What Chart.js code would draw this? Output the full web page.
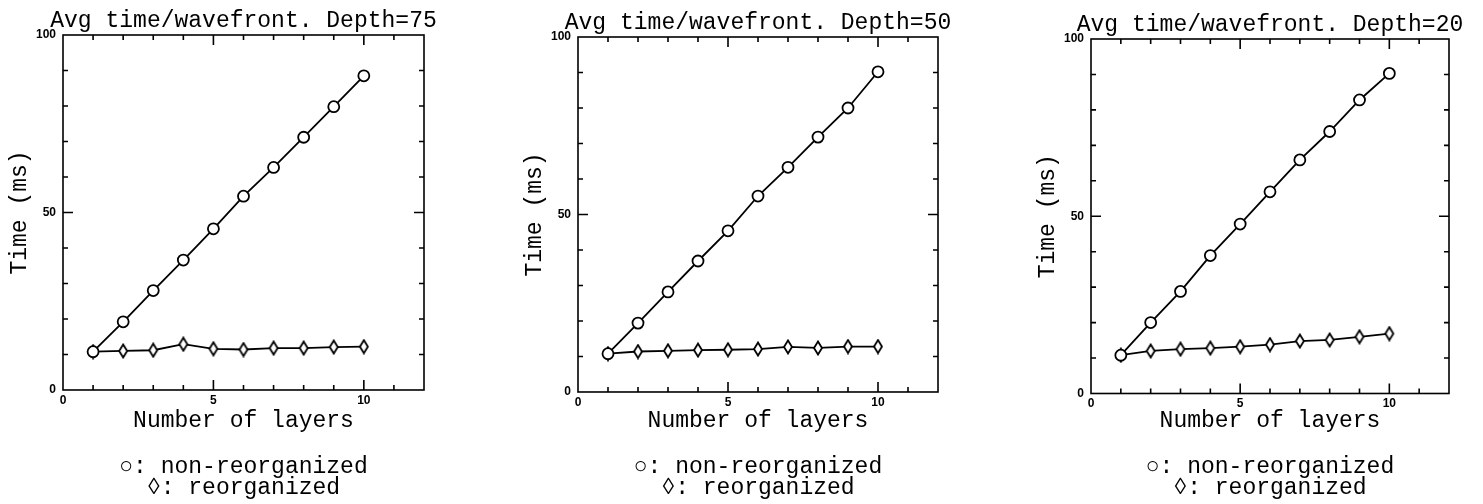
<!DOCTYPE html>
<html>
<head>
<meta charset="utf-8">
<script src="https://cdn.jsdelivr.net/npm/chart.js@4"></script>
<style>
  body { margin: 0; background: #fff; }
  #wrap { position: relative; width: 1483px; height: 504px; overflow: hidden; background: #fff; }
  canvas { position: absolute; top: 0; }
</style>
</head>
<body>
<div id="wrap">
  <canvas id="c75" width="487" height="504" style="left:0px"></canvas>
  <canvas id="c50" width="486" height="504" style="left:515px"></canvas>
  <canvas id="c20" width="484" height="504" style="left:1028px"></canvas>
</div>
<script>
// number of layers (x)
const layers = [1, 2, 3, 4, 5, 6, 7, 8, 9, 10];

// avg time per wavefront (ms)
const depth75NonReorg = [10.8, 19.2, 28.0, 36.6, 45.4, 54.6, 62.7, 71.2, 79.8, 88.5];
const depth75Reorg    = [10.8, 11.0, 11.2, 12.9, 11.6, 11.4, 11.8, 11.8, 12.1, 12.2];
const depth50NonReorg = [10.8, 19.4, 28.2, 36.9, 45.4, 55.2, 63.3, 71.8, 80.0, 90.2];
const depth50Reorg    = [10.8, 11.4, 11.6, 11.8, 11.9, 12.1, 12.7, 12.4, 12.8, 12.8];
const depth20NonReorg = [10.8, 20.0, 28.8, 38.9, 47.8, 56.9, 65.9, 73.9, 82.8, 90.3];
const depth20Reorg    = [10.8, 12.0, 12.5, 12.8, 13.2, 13.8, 14.8, 15.1, 16.0, 16.9];

const xTickLabels = [0, 5, 10];
const yTickLabels = [0, 50, 100];
const legendLines = ['\u25CB: non-reorganized', '\u25CA: reorganized'];

const MONO = 'Liberation Mono';

// tall narrow diamond marker
const diamond = document.createElement('canvas');
diamond.width = 12; diamond.height = 16;
(() => {
  const g = diamond.getContext('2d');
  g.beginPath();
  g.moveTo(6, 1.5); g.lineTo(10, 8); g.lineTo(6, 14.5); g.lineTo(2, 8); g.closePath();
  g.fillStyle = '#fff'; g.fill();
  g.lineWidth = 1.8; g.strokeStyle = '#000'; g.stroke();
})();

// box around the plot + inward ticks on all four sides
const frameTicks = {
  id: 'frameTicks',
  beforeDatasetsDraw(chart) {
    const {ctx, chartArea: a, scales: {x, y}} = chart;
    ctx.save();
    ctx.strokeStyle = '#000';
    ctx.lineWidth = 1.6;
    ctx.strokeRect(a.left, a.top, a.right - a.left, a.bottom - a.top);
    ctx.beginPath();
    x.ticks.forEach(t => {
      if (t.value <= x.min || t.value >= x.max) return;
      const px = x.getPixelForValue(t.value);
      const len = t.value % 5 === 0 ? 10 : 5;
      ctx.moveTo(px, a.bottom); ctx.lineTo(px, a.bottom - len);
      ctx.moveTo(px, a.top); ctx.lineTo(px, a.top + len);
    });
    y.ticks.forEach(t => {
      if (t.value <= y.min || t.value >= y.max) return;
      const py = y.getPixelForValue(t.value);
      const len = t.value % 50 === 0 ? 10 : 5;
      ctx.moveTo(a.left, py); ctx.lineTo(a.left + len, py);
      ctx.moveTo(a.right, py); ctx.lineTo(a.right - len, py);
    });
    ctx.stroke();
    ctx.restore();
  }
};

function makeChart(id, depth, nonReorg, reorg, padTop, xAxisH) {
  const tickFont = {family: 'Liberation Sans', size: 12, weight: 'bold'};
  const textFont = {family: MONO, size: 23, weight: 'normal', lineHeight: 1};
  new Chart(document.getElementById(id), {
    type: 'line',
    data: {
      datasets: [
        {
          label: 'non-reorganized',
          data: layers.map((l, i) => ({x: l, y: nonReorg[i]})),
          borderColor: '#000',
          borderWidth: 1.8,
          pointStyle: 'circle',
          pointRadius: 5.5,
          pointBorderWidth: 1.8,
          pointBackgroundColor: '#fff',
          pointBorderColor: '#000',
          tension: 0
        },
        {
          label: 'reorganized',
          data: layers.map((l, i) => ({x: l, y: reorg[i]})),
          borderColor: '#000',
          borderWidth: 1.8,
          pointStyle: diamond,
          tension: 0
        }
      ]
    },
    options: {
      responsive: false,
      animation: false,
      devicePixelRatio: 1,
      layout: {padding: {top: padTop, bottom: 5, left: 0, right: 0}},
      plugins: {
        legend: {display: false},
        tooltip: {enabled: false},
        title: {
          display: true,
          text: 'Avg time/wavefront. Depth=' + depth,
          color: '#000',
          font: textFont,
          padding: {top: 9, bottom: 3}
        },
        subtitle: {
          display: true,
          position: 'bottom',
          text: legendLines,
          color: '#000',
          font: {family: MONO, size: 23, weight: 'normal', lineHeight: 0.935},
          padding: 0
        }
      },
      scales: {
        x: {
          type: 'linear',
          min: 0, max: 12,
          grid: {display: false, drawTicks: false},
          border: {display: false},
          ticks: {
            stepSize: 1, autoSkip: false, maxRotation: 0, padding: 3,
            color: '#000', font: tickFont,
            callback: v => xTickLabels.includes(v) ? String(v) : ''
          },
          title: {
            display: true, text: 'Number of layers', color: '#000',
            font: textFont,
            padding: {top: 0, bottom: 24}
          },
          afterFit: s => { s.height = xAxisH; }
        },
        y: {
          min: 0, max: 100,
          grid: {display: false, drawTicks: false},
          border: {display: false},
          ticks: {
            stepSize: 10, autoSkip: false, padding: 7,
            color: '#000', font: tickFont,
            callback: v => yTickLabels.includes(v) ? String(v) : ''
          },
          title: {
            display: true, text: 'Time (ms)', color: '#000',
            font: textFont,
            padding: {top: 8, bottom: 0}
          },
          afterFit: s => { s.width = 63; }
        },
        yRight: {
          position: 'right',
          min: 0, max: 100,
          grid: {display: false, drawTicks: false},
          border: {display: false},
          ticks: {display: false},
          afterFit: s => { s.width = 63; }
        }
      }
    },
    plugins: [frameTicks]
  });
}

makeChart('c75', 75, depth75NonReorg, depth75Reorg, 0, 66);
makeChart('c50', 50, depth50NonReorg, depth50Reorg, 2, 64);
makeChart('c20', 20, depth20NonReorg, depth20Reorg, 4, 62.5);
</script>
</body>
</html>
